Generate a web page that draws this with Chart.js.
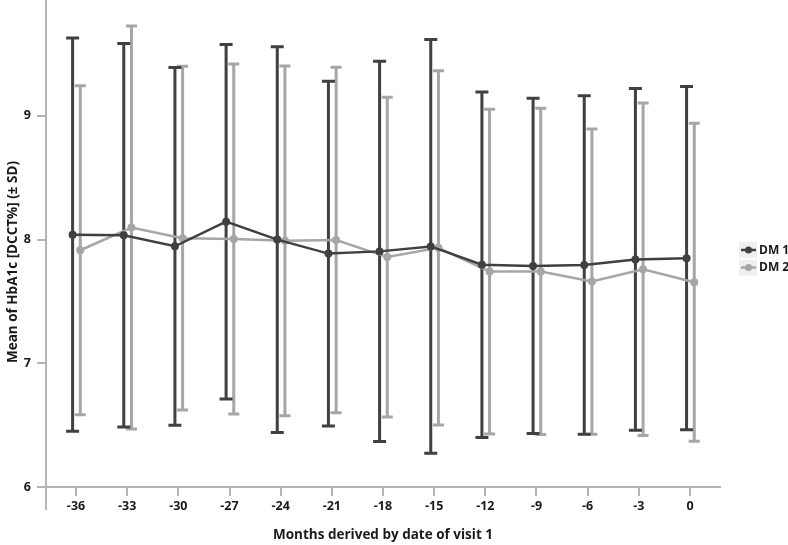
<!DOCTYPE html>
<html>
<head>
<meta charset="utf-8">
<script src="https://cdn.jsdelivr.net/npm/chart.js@4/dist/chart.umd.min.js"></script>
<style>
html,body{margin:0;padding:0;background:#fff;}
#wrap{width:788px;height:545px;}
</style>
</head>
<body>
<div id="wrap"><canvas id="c" width="788" height="545"></canvas></div>
<script>
// ---- data ----
const months = [-36, -33, -30, -27, -24, -21, -18, -15, -12, -9, -6, -3, 0];
const dm1Mean = [8.04, 8.035, 7.946, 8.145, 8.0, 7.887, 7.905, 7.945, 7.797, 7.787, 7.795, 7.84, 7.85];
const dm1SD   = [1.59, 1.55, 1.446, 1.433, 1.56, 1.393, 1.538, 1.672, 1.396, 1.355, 1.369, 1.382, 1.387];
const dm2Mean = [7.914, 8.098, 8.012, 8.005, 7.99, 7.997, 7.859, 7.934, 7.742, 7.743, 7.661, 7.76, 7.655];
const dm2SD   = [1.33, 1.63, 1.389, 1.414, 1.413, 1.397, 1.293, 1.432, 1.313, 1.319, 1.234, 1.344, 1.285];
const yTicks = [6, 7, 8, 9];
const seriesNames = ['DM 1', 'DM 2'];
const xTitle = 'Months derived by date of visit 1';
const yTitle = 'Mean of HbA1c [DCCT%] (\u00B1 SD)';

// ---- style ----
const darkC = '#404040';
const lightC = '#a6a6a6';
const axisC = '#b4b4b4';
const textC = '#1a1a1a';
const FONT = '"Open Sans", Lato, sans-serif';
const dodge = [-0.2, 0.25];

function pts(means, off) {
  return months.map((m, i) => ({ x: m + off, y: means[i] }));
}

const errorBars = {
  id: 'errorBars',
  beforeDatasetsDraw(chart) {
    const ctx = chart.ctx, xs = chart.scales.x, ys = chart.scales.y;
    const sets = [
      { mean: dm2Mean, sd: dm2SD, off: dodge[1], color: lightC, cap: 5.5 },
      { mean: dm1Mean, sd: dm1SD, off: dodge[0], color: darkC, cap: 6.5 }
    ];
    ctx.save();
    sets.forEach(s => {
      ctx.strokeStyle = s.color;
      ctx.lineWidth = 3;
      ctx.lineCap = 'butt';
      months.forEach((m, i) => {
        const x = xs.getPixelForValue(m + s.off);
        const yt = ys.getPixelForValue(s.mean[i] + s.sd[i]);
        const yb = ys.getPixelForValue(s.mean[i] - s.sd[i]);
        ctx.beginPath();
        ctx.moveTo(x, yt); ctx.lineTo(x, yb);
        ctx.moveTo(x - s.cap, yt); ctx.lineTo(x + s.cap, yt);
        ctx.moveTo(x - s.cap, yb); ctx.lineTo(x + s.cap, yb);
        ctx.stroke();
      });
    });
    ctx.restore();
  },
  afterDraw(chart) {
    const ctx = chart.ctx, ca = chart.chartArea;
    ctx.save();
    // extend y axis line to the top edge and below the x axis
    ctx.strokeStyle = axisC;
    ctx.lineWidth = 2;
    ctx.beginPath();
    ctx.moveTo(ca.left, 0);
    ctx.lineTo(ca.left, ca.bottom + 23);
    ctx.stroke();
    // titles
    ctx.fillStyle = textC;
    ctx.font = 'bold 13.5px ' + FONT;
    ctx.textAlign = 'center';
    ctx.textBaseline = 'middle';
    ctx.fillText(xTitle, 383, 535);
    ctx.save();
    ctx.translate(13, 262);
    ctx.rotate(-Math.PI / 2);
    ctx.fillText(yTitle, 0, 0);
    ctx.restore();
    // legend
    const items = [
      { name: seriesNames[0], color: darkC, y: 250 },
      { name: seriesNames[1], color: lightC, y: 267.5 }
    ];
    items.forEach(it => {
      ctx.fillStyle = '#efefef';
      ctx.fillRect(739, it.y - 8, 18, 16);
      ctx.strokeStyle = it.color;
      ctx.lineWidth = 2.5;
      ctx.beginPath();
      ctx.moveTo(741, it.y); ctx.lineTo(756, it.y);
      ctx.stroke();
      ctx.fillStyle = it.color;
      ctx.beginPath();
      ctx.arc(748.5, it.y, 3.5, 0, Math.PI * 2);
      ctx.fill();
      ctx.fillStyle = textC;
      ctx.font = 'bold 12px ' + FONT;
      ctx.textAlign = 'left';
      ctx.fillText(it.name, 759, it.y + 0.5);
    });
    ctx.restore();
  }
};

new Chart(document.getElementById('c'), {
  type: 'line',
  data: {
    datasets: [
      { label: seriesNames[0], data: pts(dm1Mean, dodge[0]), borderColor: darkC, backgroundColor: darkC,
        borderWidth: 2.5, pointRadius: 4, pointBorderWidth: 0, tension: 0, clip: false },
      { label: seriesNames[1], data: pts(dm2Mean, dodge[1]), borderColor: lightC, backgroundColor: lightC,
        borderWidth: 2.5, pointRadius: 4, pointBorderWidth: 0, tension: 0, clip: false }
    ]
  },
  options: {
    responsive: false,
    animation: false,
    devicePixelRatio: 1,
    layout: { padding: { left: 0, right: 68, top: 0, bottom: 0 } },
    plugins: { legend: { display: false }, tooltip: { enabled: false } },
    scales: {
      x: {
        type: 'linear', min: -37.76, max: 1.76,
        afterBuildTicks(s) { s.ticks = months.map(v => ({ value: v })); },
        afterFit(s) { s.height = 58; s.paddingLeft = 0; s.paddingRight = 0; },
        grid: { drawOnChartArea: false, drawTicks: true, tickLength: 9, color: axisC, lineWidth: 2 },
        border: { color: axisC, width: 2 },
        ticks: { color: textC, font: { family: FONT, weight: 'bold', size: 12.5 }, padding: 3, maxRotation: 0, autoSkip: false }
      },
      y: {
        type: 'linear', min: 6, max: 9.905,
        afterBuildTicks(s) { s.ticks = yTicks.map(v => ({ value: v })); },
        afterFit(s) { s.width = 46; s.paddingTop = 0; s.paddingBottom = 0; },
        grid: { drawOnChartArea: false, drawTicks: true, tickLength: 9, color: axisC, lineWidth: 2 },
        border: { color: axisC, width: 2 },
        ticks: { color: textC, font: { family: FONT, weight: 'bold', size: 12.5 }, padding: 6 }
      }
    }
  },
  plugins: [errorBars]
});
</script>
</body>
</html>
